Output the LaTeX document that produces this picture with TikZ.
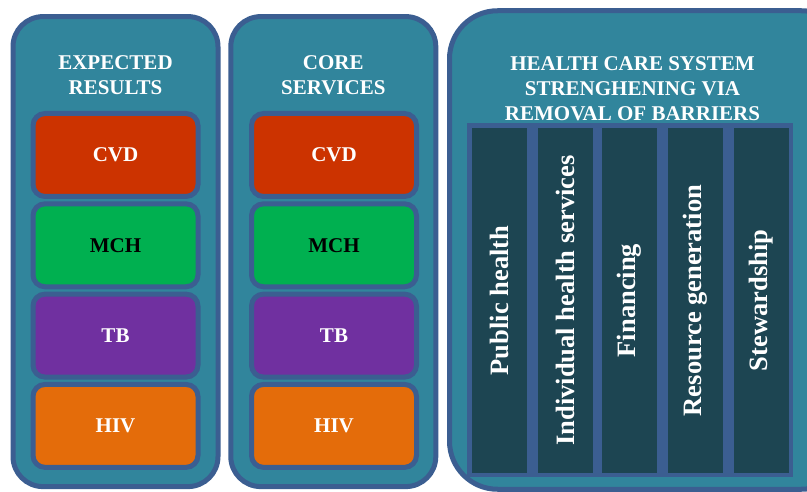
\documentclass[tikz,border=0pt]{standalone}
\usepackage{fontspec}
\setmainfont{Liberation Serif}
\usetikzlibrary{positioning}

\definecolor{panelteal}{HTML}{31859C}
\definecolor{edgeblue}{HTML}{3B5E91}
\definecolor{coldark}{HTML}{1D4552}
\definecolor{cvdred}{HTML}{CC3300}
\definecolor{mchgreen}{HTML}{00B050}
\definecolor{tbpurple}{HTML}{7030A0}
\definecolor{hivorange}{HTML}{E46C0A}

\begin{document}
\begin{tikzpicture}[x=1pt,y=-1pt,
  panel/.style={draw=edgeblue,line width=5pt,fill=panelteal,rounded corners=30pt,inner sep=0pt},
  headline/.style={text=white,font=\bfseries\fontsize{21}{25}\selectfont,align=center},
  disease/.style={draw=edgeblue,line width=5pt,rounded corners=12pt,minimum width=165pt,minimum height=83pt,inner sep=0pt,text=white,font=\bfseries\fontsize{21}{25}\selectfont},
  pillar/.style={fill=coldark,rotate=90,minimum width=345pt,minimum height=55pt,inner sep=0pt,text=white,font=\bfseries\fontsize{26.5}{30}\selectfont}]
  \useasboundingbox (0,0) rectangle (807,492);
  \clip (0,0) rectangle (807,492);

  %expected results
  \node[panel,minimum width=205pt,minimum height=470pt] (expPanel) at (115.5,251.6) {};
  \node[headline] (expTitle) at (115.5,75.5) {EXPECTED\\RESULTS};
  \node[disease,fill=cvdred] (expCVD) at (115.5,155) {CVD};
  \node[disease,fill=mchgreen,text=black,below=2.3pt of expCVD] (expMCH) {MCH};
  \node[disease,fill=tbpurple,below=2.3pt of expMCH] (expTB) {TB};
  \node[disease,fill=hivorange,below=2.3pt of expTB] (expHIV) {HIV};

  %core services
  \node[panel,minimum width=205pt,minimum height=470pt] (corePanel) at (333.3,251.6) {};
  \node[headline] (coreTitle) at (333.3,75.5) {CORE\\SERVICES};
  \node[disease,fill=cvdred] (coreCVD) at (334,155) {CVD};
  \node[disease,fill=mchgreen,text=black,below=2.3pt of coreCVD] (coreMCH) {MCH};
  \node[disease,fill=tbpurple,below=2.3pt of coreMCH] (coreTB) {TB};
  \node[disease,fill=hivorange,below=2.3pt of coreTB] (coreHIV) {HIV};

  %system strengthening
  \node[panel,rounded corners=48pt,minimum width=400pt,minimum height=478.5pt] (hssPanel) at (649.5,250) {};
  \node[headline] (hssTitle) at (632.5,89) {HEALTH CARE SYSTEM\\STRENGHENING VIA\\REMOVAL OF BARRIERS};

  %building blocks
  \node[fill=edgeblue,minimum width=326pt,minimum height=354pt,inner sep=0pt] (pillarFrame) at (630,300) {};
  \node[pillar] (pubHealth) at (499.5,300.5) {Public health};
  \node[pillar] (indServices) at (565,300.5) {Individual health services};
  \node[pillar] (financing) at (629.5,300.5) {Financing};
  \node[pillar] (resGeneration) at (695.5,300.5) {Resource generation};
  \node[pillar] (stewardship) at (761,300.5) {Stewardship};
\end{tikzpicture}
\end{document}
